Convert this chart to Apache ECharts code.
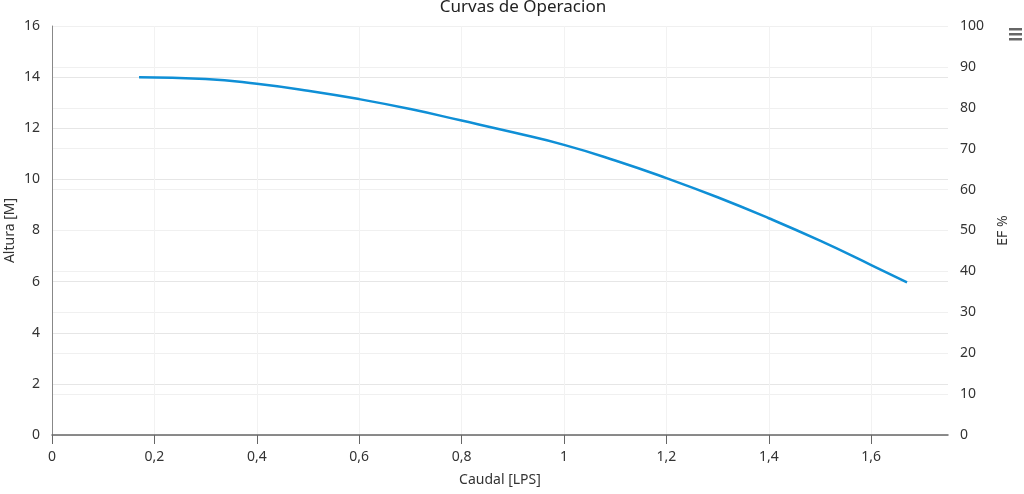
<!DOCTYPE html>
<html>
<head>
<meta charset="utf-8">
<script src="https://cdn.jsdelivr.net/npm/echarts@6/dist/echarts.min.js"></script>
<style>
html,body{margin:0;padding:0;background:#fff;}
#chart{width:1024px;height:494px;}
</style>
</head>
<body>
<div id="chart"></div>
<script>
const titleText = 'Curvas de Operacion';
const xName = 'Caudal [LPS]';
const yLeftName = 'Altura [M]';
const yRightName = 'EF %';
const caudal = [0.17, 0.3, 0.4, 0.5, 0.6, 0.7, 0.8, 0.9, 1.0, 1.1, 1.2, 1.3, 1.4, 1.5, 1.6, 1.67];
const altura = [14.0, 13.93, 13.74, 13.47, 13.14, 12.75, 12.3, 11.84, 11.35, 10.74, 10.05, 9.3, 8.48, 7.6, 6.65, 5.97];
const xTicks = [0, 0.2, 0.4, 0.6, 0.8, 1.0, 1.2, 1.4, 1.6];

const chart = echarts.init(document.getElementById('chart'));
const fmt = v => String(Math.round(v * 100) / 100).replace('.', ',');
const font = 'Noto Sans';
chart.setOption({
  animation: false,
  textStyle: { fontFamily: font },
  title: {
    text: titleText, left: 518, top: -6, textAlign: 'center',
    textStyle: { fontFamily: font, fontSize: 17, fontWeight: 'normal', color: '#222' }
  },
  grid: { left: 52, right: 76, top: 26, bottom: 59, containLabel: false, outerBoundsMode: 'none' },
  xAxis: {
    type: 'value', min: 0, max: 1.75,
    name: xName, nameLocation: 'middle', nameGap: 38,
    nameTextStyle: { fontSize: 14, color: '#333', fontFamily: font },
    axisLine: { show: true, onZero: false, lineStyle: { color: '#666', width: 1.5 } },
    axisTick: { show: true, length: 9, customValues: xTicks, lineStyle: { color: '#666' } },
    axisLabel: { customValues: xTicks, formatter: fmt, fontSize: 14, color: '#333', margin: 15, fontFamily: font },
    splitLine: { show: true, lineStyle: { color: '#f2f2f2', width: 1 } }
  },
  yAxis: [
    {
      type: 'value', min: 0, max: 16, interval: 2,
      name: yLeftName, nameLocation: 'middle', nameGap: 35, nameRotate: 90, nameMoveOverlap: false,
      nameTextStyle: { fontSize: 14, color: '#333', fontFamily: font },
      axisLine: { show: true, lineStyle: { color: '#888', width: 1 } },
      axisTick: { show: false },
      axisLabel: { fontSize: 14, color: '#333', margin: 12, fontFamily: font },
      splitLine: { show: true, lineStyle: { color: '#e6e6e6', width: 1 } }
    },
    {
      type: 'value', min: 0, max: 100, interval: 10, position: 'right',
      name: yRightName, nameLocation: 'middle', nameGap: 48, nameRotate: 90,
      nameTextStyle: { fontSize: 14, color: '#333', fontFamily: font },
      axisLine: { show: false },
      axisTick: { show: false },
      axisLabel: { fontSize: 14, color: '#333', margin: 12, fontFamily: font },
      splitLine: { show: true, lineStyle: { color: '#f0f0f0', width: 1 } }
    }
  ],
  graphic: [
    { type: 'rect', shape: { x: 1009, y: 28, width: 13, height: 2.5 }, style: { fill: '#666' } },
    { type: 'rect', shape: { x: 1009, y: 33, width: 13, height: 2.5 }, style: { fill: '#666' } },
    { type: 'rect', shape: { x: 1009, y: 38, width: 13, height: 2.5 }, style: { fill: '#666' } }
  ],
  series: [{
    type: 'line', yAxisIndex: 0,
    data: caudal.map((x, i) => [x, altura[i]]),
    smooth: 0.5, showSymbol: false, symbol: 'none',
    lineStyle: { color: '#0f8fd6', width: 2.5 }
  }]
});
</script>
</body>
</html>
